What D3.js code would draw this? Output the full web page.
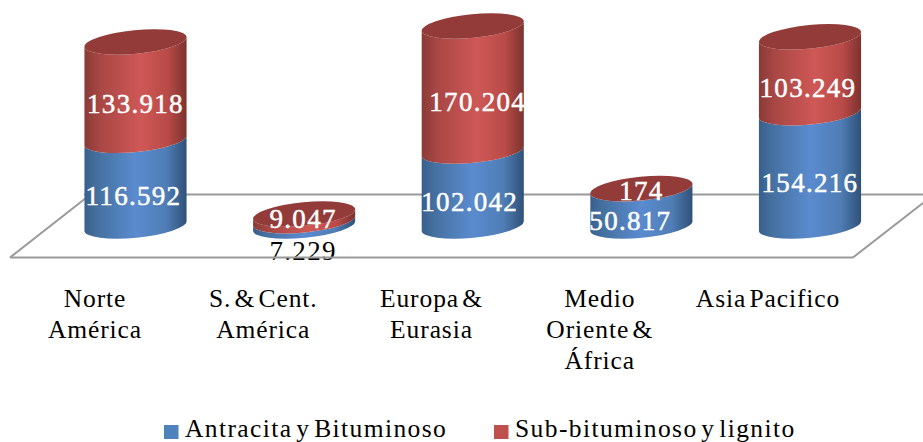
<!DOCTYPE html>
<html><head><meta charset="utf-8">
<script src="https://cdn.jsdelivr.net/npm/d3@7"></script>
<style>html,body{margin:0;padding:0;background:#fff;overflow:hidden}svg{display:block}text{font-family:"Liberation Serif",serif}</style>
</head><body><svg id="c" width="923" height="442"></svg>
<script>
const categories = ["Norte América","S. & Cent. América","Europa & Eurasia","Medio Oriente & África","Asia Pacifico"];
const categoryLines = [["Norte","América"],["S. & Cent.","América"],["Europa &","Eurasia"],["Medio","Oriente &","África"],["Asia Pacifico"]];
const antracita = [116592,7229,102042,50817,154216];
const subbituminoso = [133918,9047,170204,174,103249];
const antracitaLabels = ["116.592","7.229","102.042","50.817","154.216"];
const subLabels = ["133.918","9.047","170.204","174","103.249"];
const seriesNames = ["Antracita y Bituminoso","Sub-bituminoso y lignito"];

// layout (not data)
const blueOffset = [[-2,13],[-1,27],[-3,13],[-11,13],[0,13]];
const redOffset = [[0,13],[-1,1],[5,13],[0,2],[-2,13]];
const svg = d3.select("#c");
const x = d3.scalePoint().domain(categories).range([135.5,810]);
const y = d3.scaleLinear().domain([0,272246]).range([226,26]);
const xAxisPos = d3.scalePoint().domain(categories).range([95,768]);
const rx=51.3, ry=11.8, tilt=-5.6;
const ex=rx*Math.cos(tilt*Math.PI/180), ey=-rx*Math.sin(tilt*Math.PI/180);

const defs = svg.append("defs");
function grad(id,stops){
  const g=defs.append("linearGradient").attr("id",id).attr("x1",0).attr("x2",1).attr("y1",0).attr("y2",0);
  stops.forEach(([o,c])=>g.append("stop").attr("offset",o).attr("stop-color",c));
}
grad("blue",[[0,"#395f8c"],[0.12,"#44709f"],[0.5,"#5a8bcf"],[0.8,"#4f7db5"],[1,"#2f5178"]]);
grad("red",[[0,"#8a3a37"],[0.15,"#a84744"],[0.55,"#cf5856"],[0.82,"#b84a47"],[1,"#7c322f"]]);

// floor
const floor = svg.append("g").attr("fill","none").attr("stroke","#9a9a9a").attr("stroke-width",2);
floor.append("path").attr("d","M853,257.5L923,203");
floor.append("path").attr("d","M10,257.5L86,198");
floor.append("path").attr("d","M84,194.5L923,194.5");

function body(cx,yTop,yBot,fill){
  const d=`M${cx-ex},${yTop+ey}A${rx},${ry} ${tilt} 0 0 ${cx+ex},${yTop-ey}`+
          `L${cx+ex},${yBot-ey}A${rx},${ry} ${tilt} 0 1 ${cx-ex},${yBot+ey}Z`;
  return svg.append("path").attr("d",d).attr("fill",fill);
}
categories.forEach((c,i)=>{
  const cx=x(c), y0=y(0), y1=y(antracita[i]), y2=y(antracita[i]+subbituminoso[i]);
  body(cx,y1,y0,"url(#blue)");
  body(cx,y2,y1,"url(#red)");
  svg.append("ellipse").attr("cx",cx).attr("cy",y2).attr("rx",rx).attr("ry",ry)
    .attr("transform",`rotate(${tilt} ${cx} ${y2})`).attr("fill","#923b38");
});
function lbl(t,px,py,fill){
  svg.append("text").attr("x",px).attr("y",py).attr("text-anchor","middle").attr("dy","0.34em")
   .attr("font-size",27).attr("letter-spacing",1.3).attr("fill",fill).attr("stroke",fill).attr("stroke-width",fill==="#000"?0:0.5).text(t);
}
categories.forEach((c,i)=>{
  const b=y(antracita[i]/2), r=y(antracita[i]+subbituminoso[i]/2);
  lbl(antracitaLabels[i],x(c)+blueOffset[i][0],b+blueOffset[i][1],i===1?"#000":"#fff");
  lbl(subLabels[i],x(c)+redOffset[i][0],r+redOffset[i][1],"#fff");
});
svg.append("path").attr("d","M10,257.5L853,257.5").attr("fill","none").attr("stroke","#9a9a9a").attr("stroke-width",2);
// category labels
categories.forEach((c,i)=>{
  const t=svg.append("text").attr("text-anchor","middle").attr("font-size",25.5).attr("letter-spacing",0.9).attr("word-spacing",-4).attr("fill","#000");
  categoryLines[i].forEach((l,j)=>t.append("tspan").attr("x",xAxisPos(c)).attr("y",307+j*31).text(l));
});
// legend
const legendX=[164,494], legendColors=["#4f81bd","#c0504d"];
seriesNames.forEach((n,i)=>{
  svg.append("rect").attr("x",legendX[i]).attr("y",425).attr("width",14.5).attr("height",14).attr("fill",legendColors[i]);
  svg.append("text").attr("x",legendX[i]+21).attr("y",436.5).attr("font-size",25.5).attr("letter-spacing",1.4).attr("word-spacing",-4).attr("fill","#000").text(n);
});
</script></body></html>
